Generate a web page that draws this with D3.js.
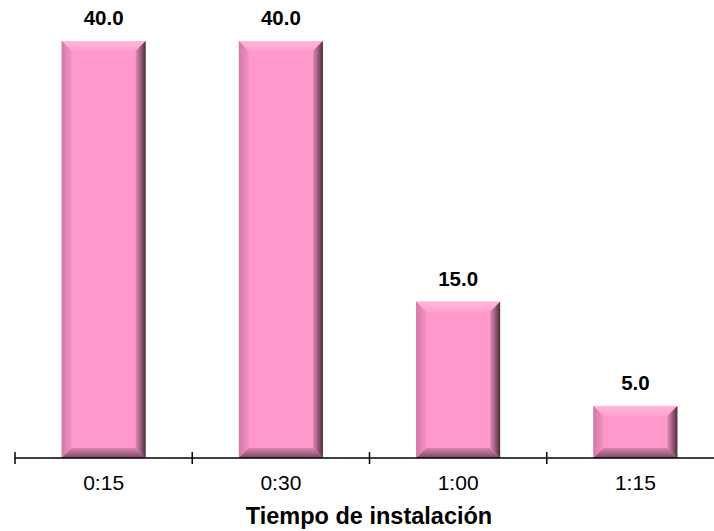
<!DOCTYPE html>
<html>
<head>
<meta charset="utf-8">
<script src="https://cdn.jsdelivr.net/npm/d3@7"></script>
<style>
  html, body { margin: 0; padding: 0; background: #ffffff; }
  svg { display: block; }
</style>
</head>
<body>
<div id="chart"></div>
<script>
const categories = ["0:15", "0:30", "1:00", "1:15"];
const values = [40.0, 40.0, 15.0, 5.0];
const xTitle = "Tiempo de instalación";

const W = 714, H = 531;
const axisY = 458;
const svg = d3.select("#chart").append("svg").attr("width", W).attr("height", H);

const x = d3.scaleBand().domain(categories).range([15, 724]).paddingInner(0.526).paddingOuter(0.263);
const xTick = d3.scaleBand().domain(categories).range([15, 724]).padding(0);
const y = d3.scaleLinear().domain([0, 40]).range([axisY, 41]);

const defs = svg.append("defs");
function grad(id, x1, y1, x2, y2, stops) {
  const g = defs.append("linearGradient").attr("id", id)
    .attr("x1", x1).attr("y1", y1).attr("x2", x2).attr("y2", y2);
  stops.forEach(s => g.append("stop").attr("offset", s[0]).attr("stop-color", s[1]));
}
grad("gTop", 0, 0, 0, 1, [[0, "#ffb8dc"], [1, "#ffa0d0"]]);
grad("gLeft", 0, 0, 1, 0, [[0, "#d07aa6"], [1, "#f590c3"]]);
grad("gRight", 0, 0, 1, 0, [[0, "#e08ab6"], [0.5, "#9c5d7c"], [1, "#4a2c3b"]]);
grad("gBot", 0, 0, 0, 1, [[0, "#d985b0"], [1, "#7f4764"]]);

const bevel = 10;
const face = "#ff99cc";

const bars = svg.append("g").selectAll("g").data(values).join("g")
  .attr("transform", (d, i) => `translate(${x(categories[i])},${y(d)})`);

bars.each(function(d) {
  const g = d3.select(this);
  const w = x.bandwidth();
  const h = y(0) - y(d);
  const b = Math.min(bevel, h / 2);
  g.append("rect").attr("width", w).attr("height", h).attr("fill", face);
  g.append("polygon").attr("points", `0,0 ${w},0 ${w - b},${b} ${b},${b}`).attr("fill", "url(#gTop)");
  g.append("polygon").attr("points", `0,0 ${b},${b} ${b},${h - b} 0,${h}`).attr("fill", "url(#gLeft)");
  g.append("polygon").attr("points", `${w},0 ${w},${h} ${w - b},${h - b} ${w - b},${b}`).attr("fill", "url(#gRight)");
  g.append("polygon").attr("points", `0,${h} ${b},${h - b} ${w - b},${h - b} ${w},${h}`).attr("fill", "url(#gBot)");
});

// value labels
svg.append("g").selectAll("text").data(values).join("text")
  .attr("x", (d, i) => x(categories[i]) + x.bandwidth() / 2)
  .attr("y", d => y(d) - 16)
  .attr("text-anchor", "middle")
  .attr("font-family", "Liberation Sans, Arial, sans-serif")
  .attr("font-weight", "bold")
  .attr("font-size", "20.5px")
  .attr("fill", "#000")
  .text(d => d.toFixed(1));

// axis
const axisG = svg.append("g");
axisG.append("line").attr("x1", 15).attr("x2", W).attr("y1", axisY).attr("y2", axisY)
  .attr("stroke", "#000").attr("stroke-width", 1.5);
const tickPos = categories.map(c => xTick(c)).concat([xTick(categories[categories.length - 1]) + xTick.bandwidth()]);
axisG.selectAll("line.tick").data(tickPos).join("line").attr("class", "tick")
  .attr("x1", d => d).attr("x2", d => d).attr("y1", axisY - 6).attr("y2", axisY + 6)
  .attr("stroke", "#000").attr("stroke-width", 1.5);
axisG.selectAll("text").data(categories).join("text")
  .attr("x", d => xTick(d) + xTick.bandwidth() / 2)
  .attr("y", 490)
  .attr("text-anchor", "middle")
  .attr("font-family", "Liberation Sans, Arial, sans-serif")
  .attr("font-size", "21px")
  .attr("fill", "#000")
  .text(d => d);

svg.append("text")
  .attr("x", 369).attr("y", 524)
  .attr("text-anchor", "middle")
  .attr("font-family", "Liberation Sans, Arial, sans-serif")
  .attr("font-weight", "bold")
  .attr("font-size", "23.5px")
  .attr("fill", "#000")
  .text(xTitle);
</script>
</body>
</html>
